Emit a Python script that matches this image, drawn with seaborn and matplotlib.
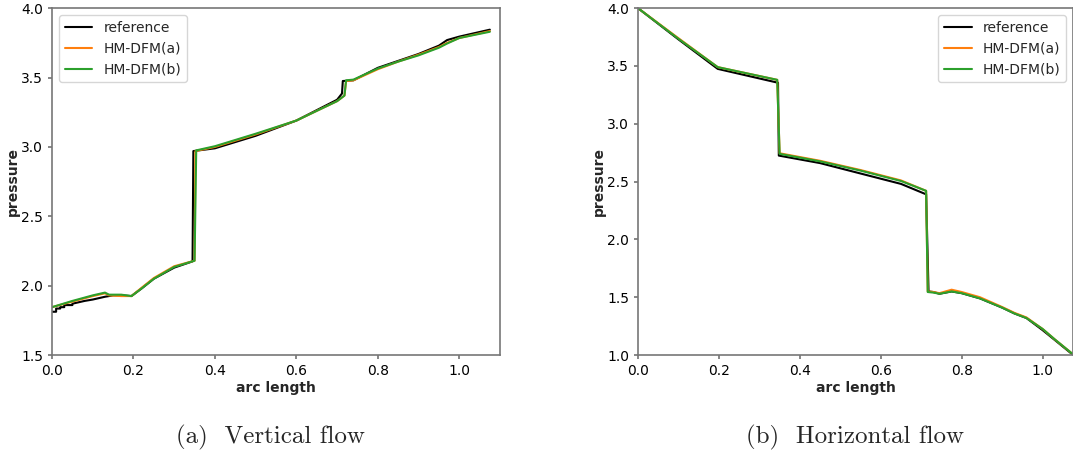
import numpy as np
import matplotlib
matplotlib.use("Agg")
import matplotlib.pyplot as plt
import seaborn as sns

# ---- (a) vertical flow ----
v_ref_s = [0.0, 0.01, 0.01, 0.02, 0.02, 0.03, 0.03, 0.05, 0.05, 0.08, 0.10, 0.13,
           0.15, 0.17, 0.195, 0.22, 0.25, 0.30, 0.345, 0.347, 0.40, 0.50, 0.60,
           0.70, 0.712, 0.714, 0.74, 0.80, 0.85, 0.90, 0.95, 0.97, 1.00, 1.075]
v_ref_p = [1.812, 1.812, 1.835, 1.835, 1.845, 1.845, 1.86, 1.86, 1.87, 1.89, 1.90, 1.92,
           1.93, 1.93, 1.925, 1.98, 2.05, 2.13, 2.175, 2.97, 2.99, 3.08, 3.19,
           3.34, 3.385, 3.475, 3.48, 3.57, 3.62, 3.67, 3.73, 3.77, 3.795, 3.845]

v_a_s = [0.0, 0.05, 0.10, 0.13, 0.14, 0.17, 0.195, 0.22, 0.25, 0.30, 0.35, 0.352,
         0.40, 0.50, 0.60, 0.70, 0.718, 0.722, 0.74, 0.80, 0.85, 0.90, 0.95, 0.97, 1.00, 1.075]
v_a_p = [1.845, 1.885, 1.925, 1.945, 1.93, 1.925, 1.925, 1.985, 2.055, 2.14, 2.18, 2.97,
         3.00, 3.09, 3.19, 3.33, 3.37, 3.475, 3.48, 3.56, 3.615, 3.665, 3.72, 3.75, 3.785, 3.835]

v_b_s = [0.0, 0.05, 0.10, 0.13, 0.14, 0.17, 0.195, 0.22, 0.25, 0.30, 0.35, 0.354,
         0.40, 0.50, 0.60, 0.70, 0.718, 0.722, 0.74, 0.80, 0.85, 0.90, 0.95, 0.97, 1.00, 1.075]
v_b_p = [1.845, 1.89, 1.93, 1.95, 1.935, 1.935, 1.925, 1.98, 2.05, 2.135, 2.18, 2.975,
         3.005, 3.095, 3.19, 3.33, 3.37, 3.48, 3.485, 3.565, 3.615, 3.66, 3.715, 3.745, 3.785, 3.83]

# ---- (b) horizontal flow ----
h_ref_s = [0.0, 0.10, 0.197, 0.346, 0.348, 0.45, 0.55, 0.65, 0.712, 0.718, 0.73,
           0.745, 0.775, 0.80, 0.845, 0.90, 0.93, 0.96, 1.00, 1.03, 1.072]
h_ref_p = [4.0, 3.73, 3.475, 3.355, 2.725, 2.66, 2.57, 2.48, 2.39, 1.55, 1.545,
           1.53, 1.55, 1.535, 1.49, 1.41, 1.36, 1.32, 1.215, 1.13, 1.01]

h_a_s = [0.0, 0.10, 0.197, 0.344, 0.35, 0.45, 0.55, 0.65, 0.712, 0.716, 0.73,
         0.745, 0.775, 0.80, 0.845, 0.90, 0.93, 0.96, 1.00, 1.03, 1.072]
h_a_p = [4.0, 3.74, 3.49, 3.38, 2.745, 2.68, 2.60, 2.51, 2.42, 1.55, 1.545,
         1.535, 1.565, 1.545, 1.50, 1.415, 1.365, 1.325, 1.225, 1.135, 1.015]

h_b_s = [0.0, 0.10, 0.197, 0.344, 0.35, 0.45, 0.55, 0.65, 0.712, 0.716, 0.73,
         0.745, 0.775, 0.80, 0.845, 0.90, 0.93, 0.96, 1.00, 1.03, 1.072]
h_b_p = [4.0, 3.735, 3.49, 3.38, 2.74, 2.675, 2.595, 2.505, 2.42, 1.545, 1.54,
         1.53, 1.55, 1.535, 1.49, 1.41, 1.36, 1.32, 1.225, 1.135, 1.015]

labels = ["reference", "HM-DFM(a)", "HM-DFM(b)"]
colors = ["black", "tab:orange", "tab:green"]

sns.set_theme(style="ticks")
plt.rcParams.update({
    "font.family": ["DejaVu Sans"],
    "axes.edgecolor": "#777777",
    "axes.linewidth": 1.2,
    "xtick.color": "#777777",
    "ytick.color": "#777777",
    "xtick.labelcolor": "black",
    "ytick.labelcolor": "black",
    "xtick.major.size": 3,
    "ytick.major.size": 3,
    "xtick.labelsize": 10,
    "ytick.labelsize": 10,
})

fig = plt.figure(figsize=(10.73, 4.54), dpi=100)
ax1 = fig.add_axes([0.0485, 0.218, 0.4175, 0.764])
ax2 = fig.add_axes([0.5946, 0.218, 0.4054, 0.764])

series_v = [(v_ref_s, v_ref_p), (v_a_s, v_a_p), (v_b_s, v_b_p)]
series_h = [(h_ref_s, h_ref_p), (h_a_s, h_a_p), (h_b_s, h_b_p)]

for ax, series in [(ax1, series_v), (ax2, series_h)]:
    for (s, p), lab, c in zip(series, labels, colors):
        sns.lineplot(x=s, y=p, ax=ax, color=c, label=lab, lw=1.5,
                     estimator=None, sort=False)
    ax.set_xlabel("arc length", fontsize=10, fontweight="bold", labelpad=2)
    ax.set_ylabel("pressure", fontsize=10, fontweight="bold", labelpad=1)
    ax.set_xticks([0.0, 0.2, 0.4, 0.6, 0.8, 1.0])

ax1.set_xlim(0, 1.1)
ax1.set_ylim(1.5, 4.0)
ax1.set_yticks([1.5, 2.0, 2.5, 3.0, 3.5, 4.0])
ax1.legend(loc="upper left", fontsize=10, frameon=True)

ax2.set_xlim(0, 1.075)
ax2.set_ylim(1.0, 4.0)
ax2.set_yticks([1.0, 1.5, 2.0, 2.5, 3.0, 3.5, 4.0])
ax2.legend(loc="upper right", fontsize=10, frameon=True)

fig.text(270 / 1073, 1 - 437 / 454, "(a)  Vertical flow", ha="center", va="center",
         fontsize=18, family="cmr10")
fig.text(855 / 1073, 1 - 437 / 454, "(b)  Horizontal flow", ha="center", va="center",
         fontsize=18, family="cmr10")

fig.savefig("out.png", dpi=100)
